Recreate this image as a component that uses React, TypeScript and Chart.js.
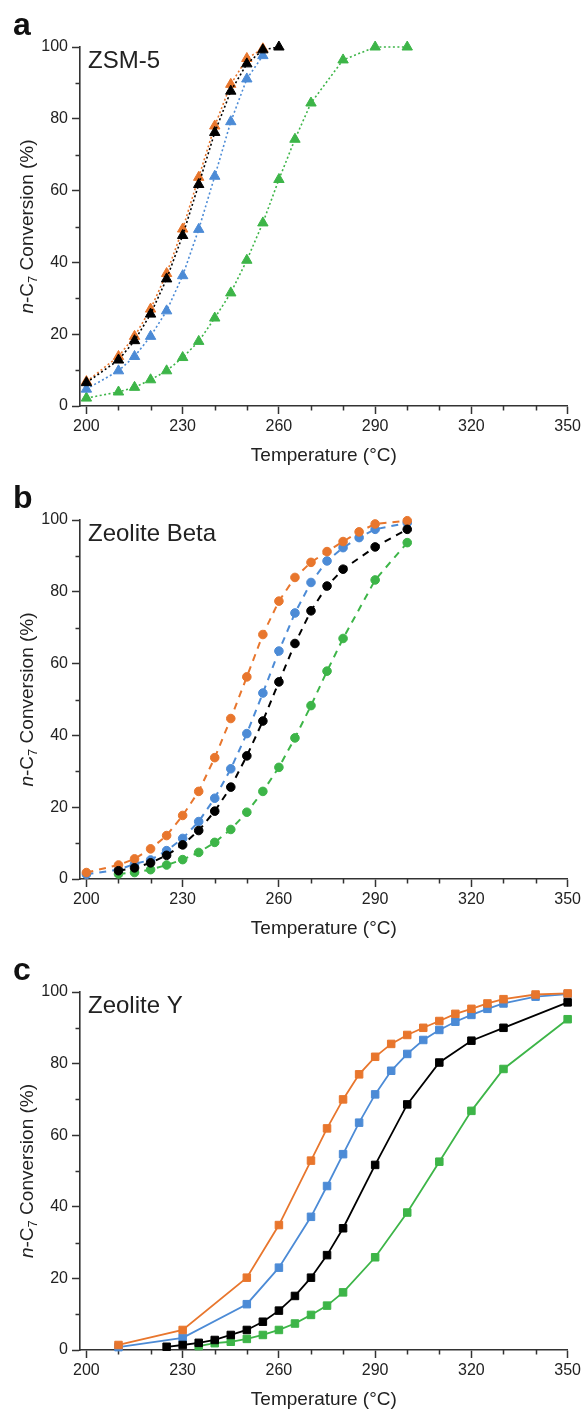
import React, { useEffect, useRef } from 'react';
import { Chart, registerables } from 'chart.js';

Chart.register(...registerables);

const FONT = '"Liberation Sans", Arial, Helvetica, sans-serif';
const TEXT_COLOR = '#222222';
const AXIS_COLOR = '#333333';

// ---- axes ----
const xMajorTicks = [200, 230, 260, 290, 320, 350];
const xMinorTicks = [210, 220, 240, 250, 270, 280, 300, 310, 330, 340];
const yMajorTicks = [0, 20, 40, 60, 80, 100];
const yMinorTicks = [10, 30, 50, 70, 90];
const xTitle = 'Temperature (°C)';

// ---- panel a: ZSM-5 ----
const aTempOrange = [200, 210, 215, 220, 225, 230, 235, 240, 245, 250, 255];
const aOrange = [6.8, 13.8, 19.4, 27.0, 36.9, 49.3, 63.7, 78.0, 89.6, 96.8, 99.5];
const aTempBlack = [200, 210, 215, 220, 225, 230, 235, 240, 245, 250, 255, 260];
const aBlack = [6.5, 12.8, 18.2, 25.6, 35.4, 47.5, 61.7, 76.2, 87.7, 95.3, 99.2, 100];
const aTempBlue = [200, 210, 215, 220, 225, 230, 235, 240, 245, 250, 255];
const aBlue = [4.7, 9.8, 13.8, 19.4, 26.5, 36.3, 49.2, 64.0, 79.2, 91.1, 97.6];
const aTempGreen = [200, 210, 215, 220, 225, 230, 235, 240, 245, 250, 255, 260, 265, 270, 280, 290, 300];
const aGreen = [2.2, 3.9, 5.2, 7.3, 9.8, 13.5, 18.0, 24.5, 31.5, 40.6, 51.0, 63.1, 74.3, 84.4, 96.4, 100, 100];

// ---- panel b: Zeolite Beta ----
const bTempOrange = [200, 210, 215, 220, 225, 230, 235, 240, 245, 250, 255, 260, 265, 270, 275, 280, 285, 290, 300];
const bOrange = [1.8, 3.9, 5.6, 8.4, 12.1, 17.7, 24.4, 33.8, 44.7, 56.3, 68.1, 77.4, 84.0, 88.2, 91.2, 94.0, 96.7, 98.9, 99.8];
const bTempBlue = [200, 210, 215, 220, 225, 230, 235, 240, 245, 250, 255, 260, 265, 270, 275, 280, 285, 290, 300];
const bBlue = [1.3, 2.6, 4.2, 5.3, 7.9, 11.3, 16.0, 22.5, 30.7, 40.5, 51.8, 63.5, 74.1, 82.6, 88.6, 92.3, 95.1, 97.4, 99.2];
const bTempBlack = [210, 215, 220, 225, 230, 235, 240, 245, 250, 255, 260, 265, 270, 275, 280, 290, 300];
const bBlack = [2.3, 3.1, 4.5, 6.6, 9.5, 13.5, 18.9, 25.6, 34.3, 44.0, 54.9, 65.6, 74.7, 81.6, 86.3, 92.5, 97.4];
const bTempGreen = [210, 215, 220, 225, 230, 235, 240, 245, 250, 255, 260, 265, 270, 275, 280, 290, 300];
const bGreen = [1.4, 1.8, 2.6, 3.9, 5.4, 7.4, 10.2, 13.8, 18.6, 24.4, 31.1, 39.3, 48.3, 57.9, 67.0, 83.3, 93.7];

// ---- panel c: Zeolite Y ----
const cTempOrange = [210, 230, 250, 260, 270, 275, 280, 285, 290, 295, 300, 305, 310, 315, 320, 325, 330, 340, 350];
const cOrange = [1.4, 5.6, 20.2, 34.9, 52.9, 61.9, 70.0, 77.0, 81.9, 85.5, 88.0, 90.0, 91.9, 93.9, 95.3, 96.8, 98.0, 99.3, 99.6];
const cTempBlue = [210, 230, 250, 260, 270, 275, 280, 285, 290, 295, 300, 305, 310, 315, 320, 325, 330, 340, 350];
const cBlue = [0.8, 3.4, 12.8, 23.0, 37.2, 45.8, 54.7, 63.5, 71.4, 78.0, 82.7, 86.6, 89.4, 91.7, 93.6, 95.3, 96.8, 98.7, 99.4];
const cTempBlack = [225, 230, 235, 240, 245, 250, 255, 260, 265, 270, 275, 280, 290, 300, 310, 320, 330, 350];
const cBlack = [0.9, 1.4, 2.0, 2.8, 4.2, 5.6, 7.9, 11.0, 15.1, 20.2, 26.5, 34.0, 51.7, 68.6, 80.3, 86.4, 90.0, 97.1];
const cTempGreen = [235, 240, 245, 250, 255, 260, 265, 270, 275, 280, 290, 300, 310, 320, 330, 350];
const cGreen = [1.1, 1.9, 2.3, 3.1, 4.2, 5.6, 7.4, 9.8, 12.4, 16.1, 25.9, 38.4, 52.6, 66.8, 78.5, 92.4];

const COLORS = {
  orange: '#E8762D',
  blue: '#4C8BD6',
  green: '#3DB548',
  black: '#000000',
};

function pts(temps: number[], vals: number[]) {
  return temps.map((t, i) => ({ x: t, y: vals[i] }));
}

type SeriesDef = { temps: number[]; vals: number[]; color: string };

type PanelSpec = {
  top: number;
  height: number;
  chartTop: number;
  chartBottom: number;
  letter: string;
  name: string;
  pointStyle: string;
  pointRadius: number;
  dash: number[];
  lineWidth: number;
  series: SeriesDef[];
};

const panels: PanelSpec[] = [
  {
    top: 0, height: 470, chartTop: 47, chartBottom: 406,
    letter: 'a', name: 'ZSM-5', pointStyle: 'triangle', pointRadius: 6,
    dash: [2, 2.5], lineWidth: 1.6,
    series: [
      { temps: aTempBlack, vals: aBlack, color: COLORS.black },
      { temps: aTempOrange, vals: aOrange, color: COLORS.orange },
      { temps: aTempBlue, vals: aBlue, color: COLORS.blue },
      { temps: aTempGreen, vals: aGreen, color: COLORS.green },
    ],
  },
  {
    top: 470, height: 480, chartTop: 50, chartBottom: 409,
    letter: 'b', name: 'Zeolite Beta', pointStyle: 'circle', pointRadius: 4.3,
    dash: [7, 6], lineWidth: 2,
    series: [
      { temps: bTempBlack, vals: bBlack, color: COLORS.black },
      { temps: bTempOrange, vals: bOrange, color: COLORS.orange },
      { temps: bTempBlue, vals: bBlue, color: COLORS.blue },
      { temps: bTempGreen, vals: bGreen, color: COLORS.green },
    ],
  },
  {
    top: 950, height: 460, chartTop: 42, chartBottom: 400,
    letter: 'c', name: 'Zeolite Y', pointStyle: 'rect', pointRadius: 5.3,
    dash: [], lineWidth: 1.8,
    series: [
      { temps: cTempBlack, vals: cBlack, color: COLORS.black },
      { temps: cTempOrange, vals: cOrange, color: COLORS.orange },
      { temps: cTempBlue, vals: cBlue, color: COLORS.blue },
      { temps: cTempGreen, vals: cGreen, color: COLORS.green },
    ],
  },
];

function drawYTitle(ctx: CanvasRenderingContext2D, cx: number, cy: number) {
  const parts = [
    { text: 'n', font: `italic 19px ${FONT}`, dy: 0 },
    { text: '-C', font: `19px ${FONT}`, dy: 0 },
    { text: '7', font: `13px ${FONT}`, dy: 4 },
    { text: ' Conversion (%)', font: `19px ${FONT}`, dy: 0 },
  ];
  ctx.save();
  ctx.translate(cx, cy);
  ctx.rotate(-Math.PI / 2);
  ctx.textAlign = 'left';
  ctx.textBaseline = 'alphabetic';
  ctx.fillStyle = TEXT_COLOR;
  const widths = parts.map((p) => {
    ctx.font = p.font;
    return ctx.measureText(p.text).width;
  });
  const total = widths.reduce((a, b) => a + b, 0);
  let x = -total / 2;
  parts.forEach((p, i) => {
    ctx.font = p.font;
    ctx.fillText(p.text, x, p.dy);
    x += widths[i];
  });
  ctx.restore();
}

function Panel({ spec }: { spec: PanelSpec }) {
  const ref = useRef<HTMLCanvasElement | null>(null);
  useEffect(() => {
    if (!ref.current) return;
    const decor = {
      id: 'decor',
      beforeDatasetsDraw(chart: any) {
        const ctx = chart.ctx as CanvasRenderingContext2D;
        const xs = chart.scales.x;
        const ys = chart.scales.y;
        const area = chart.chartArea;
        ctx.save();
        ctx.strokeStyle = AXIS_COLOR;
        ctx.lineWidth = 1.5;
        ctx.beginPath();
        xMinorTicks.forEach((v) => {
          const px = Math.round(xs.getPixelForValue(v)) + 0.5;
          ctx.moveTo(px, area.bottom);
          ctx.lineTo(px, area.bottom + 4.5);
        });
        yMinorTicks.forEach((v) => {
          const py = Math.round(ys.getPixelForValue(v)) + 0.5;
          ctx.moveTo(area.left - 4.5, py);
          ctx.lineTo(area.left, py);
        });
        ctx.stroke();
        ctx.restore();
      },
      afterDraw(chart: any) {
        const ctx = chart.ctx as CanvasRenderingContext2D;
        const area = chart.chartArea;
        ctx.save();
        ctx.fillStyle = TEXT_COLOR;
        ctx.textBaseline = 'alphabetic';
        // panel letter
        ctx.textAlign = 'left';
        ctx.font = `bold 32px ${FONT}`;
        ctx.fillStyle = '#111111';
        ctx.fillText(spec.letter, 13, area.top - 12);
        // inset name
        ctx.fillStyle = TEXT_COLOR;
        ctx.font = `24px ${FONT}`;
        ctx.fillText(spec.name, 88, area.top + 21);
        // x title
        ctx.textAlign = 'center';
        ctx.font = `19px ${FONT}`;
        ctx.fillText(xTitle, (area.left + area.right) / 2, area.bottom + 55);
        ctx.restore();
        drawYTitle(ctx, 33, (area.top + area.bottom) / 2);
      },
    };

    const chart = new Chart(ref.current, {
      type: 'line',
      data: {
        datasets: spec.series.map((s) => ({
          data: pts(s.temps, s.vals),
          borderColor: s.color,
          backgroundColor: s.color,
          borderWidth: spec.lineWidth,
          borderDash: spec.dash,
          pointStyle: spec.pointStyle as any,
          pointRadius: spec.pointRadius,
          pointBorderWidth: 1,
          pointBorderColor: s.color,
          pointBackgroundColor: s.color,
          tension: 0,
          fill: false,
          clip: false as any,
        })),
      },
      options: {
        animation: false,
        responsive: false,
        maintainAspectRatio: false,
        devicePixelRatio: 1,
        events: [],
        layout: { padding: { top: spec.chartTop, right: 14, bottom: 0, left: 0 } },
        plugins: {
          legend: { display: false },
          tooltip: { enabled: false },
          title: { display: false },
        },
        scales: {
          x: {
            type: 'linear',
            min: 198,
            max: 350,
            afterBuildTicks: (scale: any) => {
              scale.ticks = xMajorTicks.map((v) => ({ value: v }));
            },
            afterFit: (scale: any) => {
              scale.height = spec.height - spec.chartBottom;
            },
            grid: {
              display: true,
              drawOnChartArea: false,
              drawTicks: true,
              tickLength: 8,
              tickColor: AXIS_COLOR,
              tickWidth: 1.5,
            },
            border: { display: true, color: AXIS_COLOR, width: 1.6 },
            ticks: {
              color: TEXT_COLOR,
              font: { family: FONT, size: 16 },
              padding: 3,
              maxRotation: 0,
              autoSkip: false,
            },
          },
          y: {
            type: 'linear',
            min: 0,
            max: 100,
            afterBuildTicks: (scale: any) => {
              scale.ticks = yMajorTicks.map((v) => ({ value: v }));
            },
            afterFit: (scale: any) => {
              scale.width = 80;
            },
            grid: {
              display: true,
              drawOnChartArea: false,
              drawTicks: true,
              tickLength: 8,
              tickColor: AXIS_COLOR,
              tickWidth: 1.5,
            },
            border: { display: true, color: AXIS_COLOR, width: 1.6 },
            ticks: {
              color: TEXT_COLOR,
              font: { family: FONT, size: 16 },
              padding: 4,
              autoSkip: false,
            },
          },
        },
      } as any,
      plugins: [decor],
    });
    return () => chart.destroy();
  }, [spec]);

  return (
    <canvas
      ref={ref}
      width={584}
      height={spec.height}
      style={{ position: 'absolute', left: 0, top: spec.top, width: 584, height: spec.height }}
    />
  );
}

export default function App() {
  return (
    <div style={{ position: 'absolute', left: 0, top: 0, width: 584, height: 1410, background: '#ffffff' }}>
      {panels.map((p) => (
        <Panel key={p.letter} spec={p} />
      ))}
    </div>
  );
}
